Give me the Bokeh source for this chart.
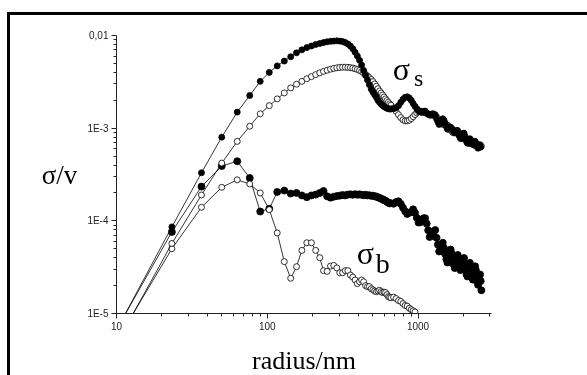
from bokeh.plotting import figure
from bokeh.models import Range1d, FixedTicker, Label
from bokeh.embed import file_html
from bokeh.resources import INLINE

# ---------------- data ----------------
radius = [10.0, 23.3, 36.6, 49.9, 63.2, 76.5, 89.8, 103.1, 116.4, 129.7,
          143.0, 156.3, 169.6, 182.9, 196.2, 209.5, 222.8, 236.1, 249.4, 262.7,
          276.0, 289.3, 302.6, 315.9, 329.2, 342.5, 355.8, 369.1, 382.4, 395.7,
          409.0, 422.3, 435.6, 448.9, 462.2, 475.5, 488.8, 502.1, 515.4, 528.7,
          542.0, 555.3, 568.6, 581.9, 595.2, 608.5, 621.8, 635.1, 648.4, 661.7,
          688.3, 714.9, 741.5, 768.1, 794.7, 821.3, 847.9, 874.5, 901.1, 927.7,
          954.3, 980.9, 1007.5, 1034.1, 1060.7, 1087.3, 1113.9, 1140.5, 1167.1, 1193.7,
          1220.3, 1246.9, 1273.5, 1300.1, 1326.7, 1353.3, 1379.9, 1406.5, 1433.1, 1459.7,
          1486.3, 1512.9, 1539.5, 1566.1, 1592.7, 1619.3, 1645.9, 1672.5, 1699.1, 1725.7,
          1752.3, 1778.9, 1805.5, 1832.1, 1858.7, 1885.3, 1911.9, 1938.5, 1965.1, 1991.7,
          2018.3, 2044.9, 2071.5, 2098.1, 2124.7, 2151.3, 2177.9, 2204.5, 2231.1, 2257.7,
          2284.3, 2310.9, 2337.5, 2364.1, 2390.7, 2417.3, 2443.9, 2470.5, 2497.1, 2523.7,
          2550.3, 2576.9, 2603.5, 2630.1]

# sigma_s, filled symbols
sigma_s_filled = [6.6e-6, 8.6e-5, 3.3e-4, 8.0e-4, 1.49e-3, 2.25e-3, 3.2e-3, 4.0e-3, 4.7e-3, 5.3e-3,
                  5.9e-3, 6.5e-3, 7.0e-3, 7.4e-3, 7.7e-3, 8.0e-3, 8.2e-3, 8.4e-3, 8.55e-3, 8.65e-3,
                  8.7e-3, 8.75e-3, 8.7e-3, 8.6e-3, 8.4e-3, 8.1e-3, 7.7e-3, 7.2e-3, 6.6e-3, 6.0e-3,
                  5.4e-3, 4.8e-3, 4.2e-3, 3.7e-3, 3.3e-3, 2.95e-3, 2.65e-3, 2.45e-3, 2.3e-3, 2.15e-3,
                  2.0e-3, 1.9e-3, 1.82e-3, 1.76e-3, 1.71e-3, 1.67e-3, 1.64e-3, 1.62e-3, 1.61e-3, 1.61e-3,
                  1.62e-3, 1.66e-3, 1.75e-3, 1.9e-3, 2.05e-3, 2.15e-3, 2.18e-3, 2.12e-3, 2.0e-3, 1.85e-3,
                  1.72e-3, 1.62e-3, 1.55e-3, 1.5e-3, 1.48e-3, 1.516e-3, 1.529e-3, 1.461e-3, 1.428e-3, 1.385e-3,
                  1.407e-3, 1.43e-3, 1.422e-3, 1.39e-3, 1.259e-3, 1.165e-3, 1.096e-3, 1.128e-3, 1.206e-3, 1.263e-3,
                  1.215e-3, 1.133e-3, 1.045e-3, 9.75e-4, 9.78e-4, 9.99e-4, 1.023e-3, 9.93e-4, 9.6e-4, 9.28e-4,
                  8.99e-4, 9.26e-4, 9.45e-4, 9.41e-4, 8.69e-4, 8.12e-4, 7.72e-4, 7.96e-4, 8.42e-4, 8.81e-4,
                  8.83e-4, 8.24e-4, 7.68e-4, 7.16e-4, 6.87e-4, 7.14e-4, 7.36e-4, 7.7e-4, 7.53e-4, 7.25e-4,
                  6.89e-4, 6.65e-4, 6.85e-4, 7.0e-4, 7.22e-4, 6.9e-4, 6.55e-4, 6.27e-4, 6.08e-4, 6.31e-4,
                  6.54e-4, 6.63e-4, 6.24e-4]

# sigma_s, open symbols
sigma_s_open = [4.7e-6, 5.7e-5, 1.9e-4, 4.2e-4, 7.2e-4, 1.05e-3, 1.43e-3, 1.75e-3, 2.07e-3, 2.4e-3,
                2.72e-3, 2.98e-3, 3.2e-3, 3.42e-3, 3.6e-3, 3.78e-3, 3.95e-3, 4.1e-3, 4.22e-3, 4.33e-3,
                4.42e-3, 4.48e-3, 4.52e-3, 4.55e-3, 4.55e-3, 4.53e-3, 4.5e-3, 4.45e-3, 4.38e-3, 4.3e-3,
                4.2e-3, 4.08e-3, 3.95e-3, 3.8e-3, 3.65e-3, 3.5e-3, 3.35e-3, 3.18e-3, 3.0e-3, 2.83e-3,
                2.67e-3, 2.52e-3, 2.4e-3, 2.28e-3, 2.17e-3, 2.07e-3, 1.98e-3, 1.9e-3, 1.83e-3, 1.77e-3,
                1.65e-3, 1.52e-3, 1.4e-3, 1.3e-3, 1.23e-3, 1.2e-3, 1.2e-3, 1.22e-3, 1.27e-3, 1.33e-3,
                1.4e-3, 1.46e-3, 1.5e-3, 1.52e-3, 1.52e-3, 1.5e-3, 1.47e-3, 1.44e-3, 1.41e-3, 1.39e-3,
                1.38e-3, 1.38e-3, 1.38e-3, 1.36e-3, 1.32e-3, 1.27e-3, 1.22e-3, 1.17e-3, 1.13e-3, 1.1e-3,
                1.09e-3, 1.09e-3, 1.09e-3, 1.08e-3, 1.05e-3, 1.01e-3, 9.7e-4, 9.3e-4, 9.0e-4, 8.9e-4,
                8.9e-4, 8.9e-4, 8.9e-4, 8.8e-4, 8.6e-4, 8.3e-4, 8.0e-4, 7.8e-4, 7.7e-4, 7.7e-4,
                7.7e-4, 7.7e-4, 7.6e-4, 7.4e-4, 7.2e-4, 7.0e-4, 6.9e-4, 6.85e-4, 6.85e-4, 6.85e-4,
                6.8e-4, 6.75e-4, 6.7e-4, 6.6e-4, 6.5e-4, 6.45e-4, 6.4e-4, 6.4e-4, 6.4e-4, 6.4e-4,
                6.4e-4, 6.4e-4, 6.4e-4, 6.4e-4]

# sigma_b, filled symbols
sigma_b_filled = [6.7e-6, 7.6e-5, 2.34e-4, 3.9e-4, 4.4e-4, 2.9e-4, 1.26e-4, 1.35e-4, 2.05e-4, 2.12e-4,
                  1.97e-4, 2.0e-4, 1.88e-4, 1.8e-4, 1.88e-4, 1.92e-4, 2.0e-4, 2.1e-4, 1.84e-4, 1.78e-4,
                  1.82e-4, 1.85e-4, 1.87e-4, 1.9e-4, 1.88e-4, 1.92e-4, 1.93e-4, 1.91e-4, 1.94e-4, 1.91e-4,
                  1.93e-4, 1.91e-4, 1.89e-4, 1.91e-4, 1.88e-4, 1.89e-4, 1.86e-4, 1.87e-4, 1.84e-4, 1.83e-4,
                  1.79e-4, 1.77e-4, 1.73e-4, 1.71e-4, 1.67e-4, 1.65e-4, 1.61e-4, 1.57e-4, 1.54e-4, 1.55e-4,
                  1.53e-4, 1.593e-4, 1.624e-4, 1.524e-4, 1.386e-4, 1.269e-4, 1.186e-4, 1.22e-4, 1.244e-4, 1.33e-4,
                  1.221e-4, 1.078e-4, 9.58e-5, 9.65e-5, 1.015e-4, 1.066e-4, 1.068e-4, 9.34e-5, 7.91e-5, 6.69e-5,
                  6.84e-5, 7.35e-5, 7.74e-5, 7.95e-5, 6.56e-5, 5.54e-5, 4.67e-5, 4.93e-5, 5.52e-5, 5.8e-5,
                  5.09e-5, 4.39e-5, 3.87e-5, 3.55e-5, 3.98e-5, 4.44e-5, 4.9e-5, 4.44e-5, 3.86e-5, 3.36e-5,
                  3.09e-5, 3.52e-5, 4.0e-5, 4.28e-5, 3.76e-5, 3.3e-5, 2.94e-5, 3.14e-5, 3.49e-5, 3.87e-5,
                  3.97e-5, 3.47e-5, 3.03e-5, 2.64e-5, 2.51e-5, 2.84e-5, 3.16e-5, 3.52e-5, 3.2e-5, 2.8e-5,
                  2.45e-5, 2.32e-5, 2.62e-5, 2.91e-5, 3.23e-5, 2.94e-5, 2.57e-5, 2.25e-5, 2.04e-5, 2.26e-5,
                  2.55e-5, 2.64e-5, 2.24e-5, 1.78e-5]

# sigma_b, open symbols
sigma_b_open = [5.0e-6, 5.0e-5, 1.4e-4, 2.3e-4, 2.77e-4, 2.5e-4, 2.0e-4, 1.32e-4, 7.4e-5, 3.63e-5,
                2.4e-5, 3.2e-5, 4.8e-5, 5.8e-5, 5.8e-5, 4.8e-5, 4.0e-5, 2.9e-5, 2.85e-5, 3.25e-5,
                3.3e-5, 3.1e-5, 2.75e-5, 2.75e-5, 2.9e-5, 2.9e-5, 2.6e-5, 2.47e-5, 2.3e-5, 2.1e-5,
                2.2e-5, 2.3e-5, 2.2e-5, 2.0e-5, 1.95e-5, 1.95e-5, 1.85e-5, 1.8e-5, 1.75e-5, 1.72e-5,
                1.75e-5, 1.78e-5, 1.72e-5, 1.68e-5, 1.7e-5, 1.68e-5, 1.6e-5, 1.52e-5, 1.5e-5, 1.48e-5,
                1.5e-5, 1.45e-5, 1.38e-5, 1.35e-5, 1.28e-5, 1.22e-5, 1.2e-5, 1.14e-5, 1.1e-5, 1.07e-5,
                1.04e-5]

x_ticks = [10, 100, 1000]
x_tick_labels = ["10", "100", "1000"]
x_minor = [20, 30, 40, 50, 60, 70, 80, 90, 200, 300, 400, 500, 600, 700, 800, 900, 2000, 3000]
y_ticks = [1e-5, 1e-4, 1e-3, 1e-2]
y_tick_labels = ["1E-5", "1E-4", "1E-3", "0,01"]
y_minor = [m * 10.0 ** e for e in (-5, -4, -3) for m in range(2, 10)]

# ---------------- figure ----------------
# fixed placement (no page scrolling); thick black frame line on top and left only
p = figure(width=600, height=375, x_axis_type="log", y_axis_type="log",
           x_range=Range1d(10, 3070), y_range=Range1d(1e-5, 1e-2),
           output_backend="svg", toolbar_location=None,
           min_border_left=106, min_border_right=119, min_border_top=20, min_border_bottom=77)
p.styles = {"position": "fixed", "left": "7px", "top": "12px",
            "border-top": "3px solid black", "border-left": "3px solid black"}
p.outline_line_color = None
p.grid.visible = False
p.background_fill_color = "white"
p.border_fill_color = "white"

for ax in (p.xaxis[0], p.yaxis[0]):
    ax.axis_line_color = "#222222"
    ax.axis_line_width = 1
    ax.major_tick_line_color = "#222222"
    ax.minor_tick_line_color = "#222222"
    ax.major_tick_in = 0
    ax.major_tick_out = 5
    ax.minor_tick_in = 0
    ax.minor_tick_out = 3
    ax.major_label_text_font = "Liberation Sans"
    ax.major_label_text_font_size = "10px"
    ax.major_label_text_color = "#222222"
    ax.major_label_standoff = 3

p.xaxis.ticker = FixedTicker(ticks=x_ticks, minor_ticks=x_minor)
p.yaxis.ticker = FixedTicker(ticks=y_ticks, minor_ticks=y_minor)
p.xaxis.major_label_overrides = dict(zip(x_ticks, x_tick_labels))
p.yaxis.major_label_overrides = dict(zip(y_ticks, y_tick_labels))

p.xaxis.axis_label = "radius/nm"
p.xaxis.axis_label_text_font = "Liberation Serif"
p.xaxis.axis_label_text_font_style = "normal"
p.xaxis.axis_label_text_font_size = "26px"
p.xaxis.axis_label_text_color = "black"
p.xaxis.axis_label_standoff = 13

p.yaxis.axis_label = "σ/v"
p.yaxis.axis_label_orientation = "horizontal"
p.yaxis.axis_label_text_font = "Liberation Serif"
p.yaxis.axis_label_text_font_style = "normal"
p.yaxis.axis_label_text_font_size = "27px"
p.yaxis.axis_label_text_color = "black"
p.yaxis.axis_label_standoff = 7

n_bo = len(sigma_b_open)
series = [
    (radius, sigma_b_filled, "black", 7),
    (radius[:n_bo], sigma_b_open, "white", 6),
    (radius, sigma_s_open, "white", 6),
    (radius[:len(sigma_s_filled)], sigma_s_filled, "black", 6),
]
for xs, ys, fill, sz in series:
    p.line(xs, ys, line_color="black", line_width=0.8)
    p.scatter(xs, ys, marker="circle", size=sz, fill_color=fill,
              line_color="black", line_width=0.8)

# ---------------- text annotations ----------------
def add_label(x, y, text, size):
    p.add_layout(Label(x=x, y=y, text=text, text_font="Liberation Serif",
                       text_font_size=size, text_color="black",
                       text_baseline="alphabetic", text_align="left"))

add_label(680, 4.4e-3, "σ", "32px")
add_label(940, 3.45e-3, "s", "24px")
add_label(392, 4.5e-5, "σ", "32px")
add_label(525, 3.5e-5, "b", "28px")

open("out.html", "w").write(file_html(p, INLINE))
